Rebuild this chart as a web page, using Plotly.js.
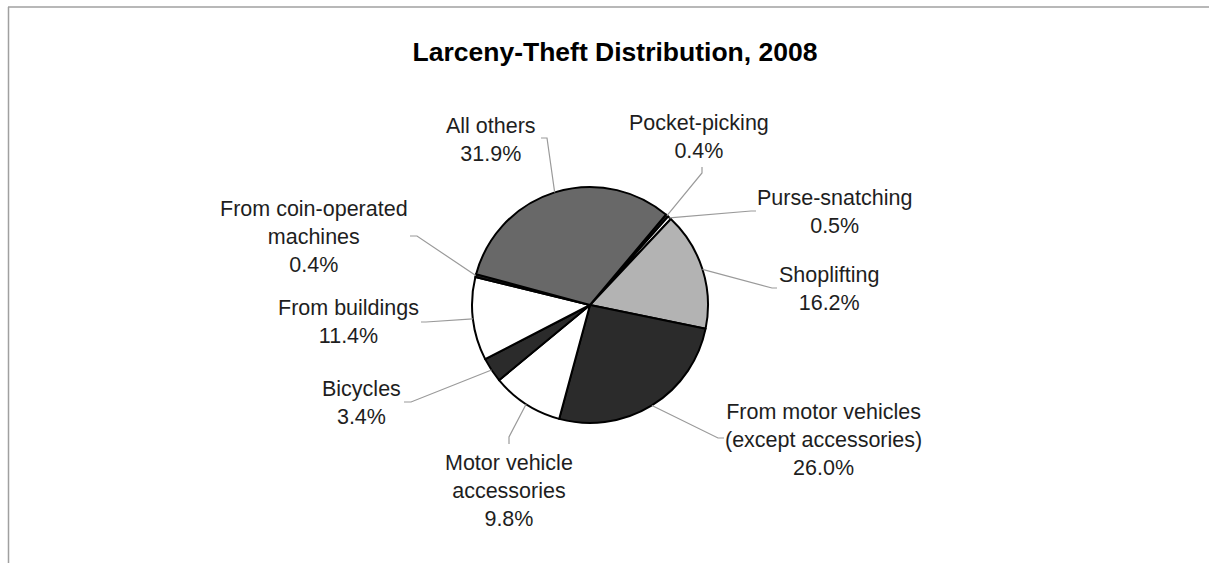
<!DOCTYPE html>
<html>
<head>
<meta charset="utf-8">
<script src="https://cdn.plot.ly/plotly-3.0.1.min.js"></script>
<style>html,body{margin:0;padding:0;background:#fff;}#chart{width:1209px;height:563px;}</style>
</head>
<body>
<div id="chart"></div>
<script>
// ---- data ----
const categories = ['Pocket-picking', 'Purse-snatching', 'Shoplifting',
  'From motor vehicles<br>(except accessories)', 'Motor vehicle<br>accessories',
  'Bicycles', 'From buildings', 'From coin-operated<br>machines', 'All others'];
const values = [0.4, 0.5, 16.2, 26.0, 9.8, 3.4, 11.4, 0.4, 31.9];
const chartTitle = 'Larceny-Theft Distribution, 2008';

// ---- styles / layout positions ----
const sliceColors = ['#1e1e1e', '#ffffff', '#b3b3b3', '#2b2b2b', '#ffffff', '#2b2b2b', '#ffffff', '#1e1e1e', '#686868'];
const W = 1209, H = 563;
const cx = 590, cy = 305, R = 118;          // pie centre / radius (px)
const startAngle = 40;                      // degrees clockwise from 12 o'clock
// label block centres (px)
const labelPos = [[699, 137], [834, 212], [829, 289], [823, 440], [509, 491], [361, 403], [348, 322], [314, 237], [491, 140]];
// leader line attachment at the label side: [startX, startY, elbowX, elbowY] (px)
const leaderAttach = [[702, 167, 702, 173], [756, 211, 751, 211], [777, 288, 772, 288], [724, 438, 718, 438],
  [509, 444, 509, 437], [404, 402, 411, 402], [421, 322, 426, 322], [410, 236, 417, 236], [541, 138, 547, 138]];

const px = x => x / W;
const py = y => 1 - y / H;

const total = values.reduce((a, b) => a + b, 0);
let cum = 0;
const annotations = [];
const shapes = [];
values.forEach((v, i) => {
  const mid = startAngle + 360 * (cum + v / 2) / total;
  cum += v;
  const a = mid * Math.PI / 180;
  const ex = cx + R * Math.sin(a), ey = cy - R * Math.cos(a);
  const la = leaderAttach[i];
  shapes.push({
    type: 'path', xref: 'paper', yref: 'paper',
    path: `M ${px(la[0])} ${py(la[1])} L ${px(la[2])} ${py(la[3])} L ${px(ex)} ${py(ey)}`,
    line: {color: '#9a9a9a', width: 1.2}
  });
  annotations.push({
    xref: 'paper', yref: 'paper', x: px(labelPos[i][0]), y: py(labelPos[i][1]),
    xanchor: 'center', yanchor: 'middle', align: 'center', showarrow: false,
    text: categories[i] + '<br>' + v.toFixed(1) + '%',
    font: {family: 'Liberation Sans, Arial, sans-serif', size: 21.5, color: '#1e1e1e'}
  });
});

// chart border (top + left)
shapes.push({type: 'line', xref: 'paper', yref: 'paper', x0: px(8), x1: 1, y0: py(7), y1: py(7), line: {color: '#a0a0a0', width: 1.5}});
shapes.push({type: 'line', xref: 'paper', yref: 'paper', x0: px(8.5), x1: px(8.5), y0: py(7), y1: 0, line: {color: '#a0a0a0', width: 1.5}});

const trace = {
  type: 'pie',
  labels: categories,
  values: values,
  sort: false,
  direction: 'clockwise',
  rotation: startAngle,
  textinfo: 'none',
  hoverinfo: 'skip',
  showlegend: false,
  marker: {colors: sliceColors, line: {color: '#000000', width: 2}},
  domain: {x: [px(cx - R), px(cx + R)], y: [py(cy + R), py(cy - R)]}
};

const layout = {
  width: W, height: H,
  margin: {l: 0, r: 0, t: 0, b: 0},
  paper_bgcolor: '#ffffff',
  title: {
    text: '<b>' + chartTitle + '</b>',
    x: 615 / W, xanchor: 'center', xref: 'paper',
    y: py(52), yanchor: 'middle', yref: 'paper',
    font: {family: 'Liberation Sans, Arial, sans-serif', size: 26.5, color: '#000000'}
  },
  annotations: annotations,
  shapes: shapes
};

Plotly.newPlot('chart', [trace], layout, {staticPlot: true, displayModeBar: false});
</script>
</body>
</html>
